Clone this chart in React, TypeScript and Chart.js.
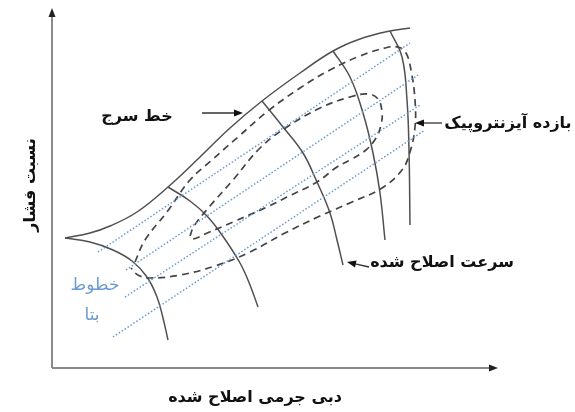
import React, { useEffect, useRef } from "react";
import { Chart, registerables } from "chart.js";

Chart.register(...registerables);

// Schematic compressor map, arbitrary units (x: corrected mass flow, y: pressure ratio)
type P = { x: number; y: number };
const pts = (a: number[][]): P[] => a.map(([x, y]) => ({ x, y }));

const X_MAX = 446;
const Y_MAX = 360;

const surgeLine = pts([
  [13, 130], [38, 135], [58, 142], [85, 156], [116, 181], [148, 211], [178, 240],
  [210, 267], [248, 295], [281, 317], [308, 329], [338, 337], [358, 340],
]);

const speed1 = pts([[13, 130], [38, 126], [61, 118], [80, 107], [95, 91], [105, 71], [111, 50], [116, 28]]);
const speed2 = pts([[116, 181], [138, 167], [155, 152], [170, 133], [188, 105], [198, 83], [206, 61]]);
const speed3 = pts([[210, 267], [231, 241], [251, 215], [265, 186], [278, 155], [285, 128], [291, 103]]);
const speed4 = pts([[281, 317], [298, 291], [311, 255], [321, 215], [328, 175], [333, 128]]);
const speed5 = pts([[338, 337], [350, 311], [355, 268], [357, 218], [358, 143]]);

const effOuter = pts([
  [83, 106], [93, 128], [115, 156], [138, 188], [160, 208], [186, 231], [216, 257], [248, 280],
  [278, 298], [308, 312], [333, 320], [346, 321], [354, 315], [359, 298], [363, 268], [363, 241],
  [358, 216], [350, 198], [330, 180], [300, 166], [268, 152], [233, 135], [198, 116], [163, 102],
  [128, 93], [98, 90], [86, 93], [79, 100],
]);

const effInner = pts([
  [138, 132], [142, 142], [158, 162], [181, 188], [208, 220], [235, 241], [268, 260], [298, 271],
  [316, 274], [326, 269], [330, 256], [329, 243], [324, 230], [314, 218], [298, 208], [285, 201],
  [265, 186], [235, 171], [215, 161], [181, 146], [153, 134], [141, 129], [138, 132],
]);

const betaA = pts([[46, 116], [358, 325]]);
const betaB = pts([[74, 98], [366, 293]]);
const betaC = pts([[73, 71], [368, 263]]);
const betaD = pts([[61, 31], [373, 238]]);

const labelSurge = "خط سرج";
const labelEff = "بازده آیزنتروپیک";
const labelSpeed = "سرعت اصلاح شده";
const labelBeta1 = "خطوط";
const labelBeta2 = "بتا";
const labelX = "دبی جرمی اصلاح شده";
const labelY = "نسبت فشار";

// annotation arrows: [fromX, fromY, toX, toY] in data units
const arrows = [
  [150, 255, 191, 255],
  [390, 245, 363, 245],
  [317, 101, 295, 106],
];

const SOLID = "#505050";
const DASH = "#444444";
const BLUE = "#6a9ad0";
const FONT = "'DejaVu Sans', 'Noto Sans', sans-serif";

export default function App() {
  const ref = useRef<HTMLCanvasElement | null>(null);

  useEffect(() => {
    if (!ref.current) return;
    const solid = (data: P[]) => ({
      data, showLine: true, borderColor: SOLID, borderWidth: 1.5, pointRadius: 0, tension: 0.4, fill: false,
    });
    const dashed = (data: P[]) => ({
      data, showLine: true, borderColor: DASH, borderWidth: 1.7, borderDash: [7, 5], pointRadius: 0, tension: 0.4, fill: false,
    });
    const dotted = (data: P[]) => ({
      data, showLine: true, borderColor: BLUE, borderWidth: 1.5, borderDash: [1.5, 2], pointRadius: 0, tension: 0, fill: false,
    });

    const overlay = {
      id: "overlay",
      beforeDatasetsDraw(chart: any) {
        const ctx = chart.ctx;
        const xs = chart.scales.x, ys = chart.scales.y;
        const x0 = xs.getPixelForValue(0), y0 = ys.getPixelForValue(0);
        const x1 = xs.getPixelForValue(X_MAX), y1 = ys.getPixelForValue(Y_MAX);
        ctx.save();
        ctx.strokeStyle = "#8a8a8a";
        ctx.lineWidth = 2;
        ctx.beginPath();
        ctx.moveTo(x0, y0);
        ctx.lineTo(x0, y1 + 6);
        ctx.moveTo(x0, y0);
        ctx.lineTo(x1 - 6, y0);
        ctx.stroke();
        ctx.fillStyle = "#222";
        ctx.beginPath();
        ctx.moveTo(x0, y1);
        ctx.lineTo(x0 - 3.5, y1 + 9);
        ctx.lineTo(x0 + 3.5, y1 + 9);
        ctx.closePath();
        ctx.fill();
        ctx.beginPath();
        ctx.moveTo(x1, y0);
        ctx.lineTo(x1 - 9, y0 - 3.5);
        ctx.lineTo(x1 - 9, y0 + 3.5);
        ctx.closePath();
        ctx.fill();
        ctx.restore();
      },
      afterDatasetsDraw(chart: any) {
        const ctx = chart.ctx;
        const xs = chart.scales.x, ys = chart.scales.y;
        const px = (v: number) => xs.getPixelForValue(v);
        const py = (v: number) => ys.getPixelForValue(v);
        ctx.save();
        // arrows
        for (const [fx, fy, tx, ty] of arrows) {
          const ax = px(fx), ay = py(fy), bx = px(tx), by = py(ty);
          const ang = Math.atan2(by - ay, bx - ax);
          const hl = 9, hw = 3.5;
          ctx.strokeStyle = "#333";
          ctx.lineWidth = 1.3;
          ctx.beginPath();
          ctx.moveTo(ax, ay);
          ctx.lineTo(bx - Math.cos(ang) * hl * 0.8, by - Math.sin(ang) * hl * 0.8);
          ctx.stroke();
          ctx.fillStyle = "#111";
          ctx.beginPath();
          ctx.moveTo(bx, by);
          ctx.lineTo(bx - Math.cos(ang) * hl - Math.sin(ang) * hw, by - Math.sin(ang) * hl + Math.cos(ang) * hw);
          ctx.lineTo(bx - Math.cos(ang) * hl + Math.sin(ang) * hw, by - Math.sin(ang) * hl - Math.cos(ang) * hw);
          ctx.closePath();
          ctx.fill();
        }
        // texts
        ctx.textAlign = "center";
        ctx.textBaseline = "middle";
        ctx.direction = "rtl";
        ctx.fillStyle = "#111";
        ctx.font = `bold 16px ${FONT}`;
        ctx.fillText(labelSurge, px(85), py(251));
        ctx.font = `bold 16px ${FONT}`;
        ctx.fillText(labelEff, px(456), py(244));
        ctx.fillText(labelSpeed, px(390), py(105));
        ctx.font = `bold 16px ${FONT}`;
        ctx.fillText(labelX, px(203), py(-30));
        ctx.save();
        ctx.translate(px(-21), py(183));
        ctx.rotate(-Math.PI / 2);
        ctx.font = `bold 16px ${FONT}`;
        ctx.fillText(labelY, 0, 0);
        ctx.restore();
        ctx.fillStyle = BLUE;
        ctx.font = `17px ${FONT}`;
        ctx.fillText(labelBeta1, px(43), py(82));
        ctx.fillText(labelBeta2, px(40), py(52));
        ctx.restore();
      },
    };

    const chart = new Chart(ref.current, {
      type: "scatter",
      data: {
        datasets: [
          dotted(betaA), dotted(betaB), dotted(betaC), dotted(betaD),
          dashed(effOuter), dashed(effInner),
          solid(surgeLine), solid(speed1), solid(speed2), solid(speed3), solid(speed4), solid(speed5),
        ] as any,
      },
      options: {
        animation: false,
        responsive: false,
        devicePixelRatio: 1,
        layout: { padding: { left: 52, right: 77, top: 8, bottom: 44 } },
        plugins: { legend: { display: false }, tooltip: { enabled: false } },
        scales: {
          x: { type: "linear", min: 0, max: X_MAX, display: false },
          y: { type: "linear", min: 0, max: Y_MAX, display: false },
        },
      } as any,
      plugins: [overlay],
    });
    return () => chart.destroy();
  }, []);

  return (
    <div style={{ position: "absolute", left: 0, top: 0, width: 575, height: 412, background: "#fff" }}>
      <canvas ref={ref} width={575} height={412} style={{ width: 575, height: 412 }} />
    </div>
  );
}
